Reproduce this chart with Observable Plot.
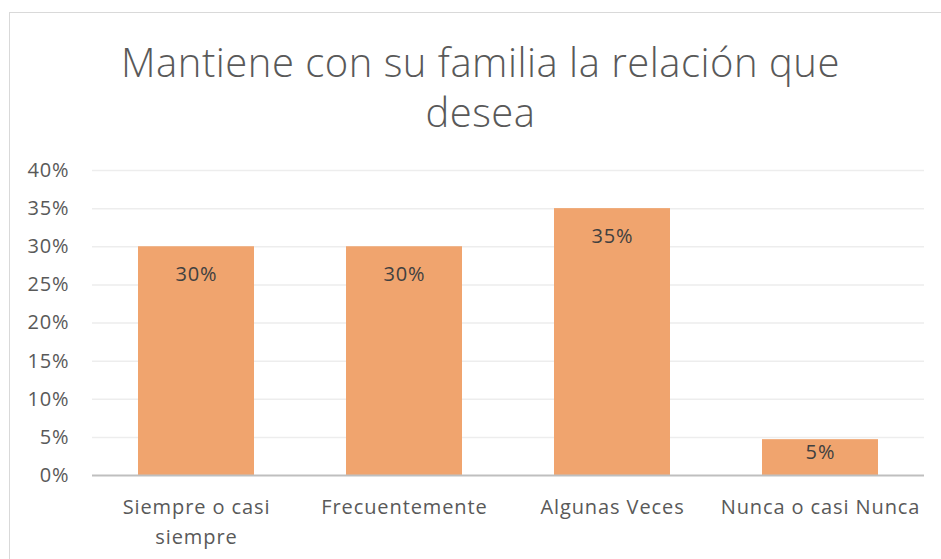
<!DOCTYPE html>
<html>
<head>
<meta charset="utf-8">
<script src="https://cdn.jsdelivr.net/npm/d3@7"></script>
<script src="https://cdn.jsdelivr.net/npm/@observablehq/plot@0.6"></script>
<style>
  html, body { margin: 0; padding: 0; background: #fff; }
  #frame { position: relative; width: 941px; height: 559px; overflow: hidden; font-family: "Open Sans", sans-serif; }
  #border { position: absolute; left: 9px; top: 12px; width: 940px; height: 560px; border-left: 1.5px solid #d9d9d9; border-top: 1.5px solid #d9d9d9; }
  #title { position: absolute; left: 10px; top: 37px; width: 941px; text-align: center; font-size: 40px; line-height: 50px; font-weight: 300; letter-spacing: 0.5px; color: #595959; }
  #chart { position: absolute; left: 0; top: 150px; }
</style>
</head>
<body>
<div id="frame">
  <div id="border"></div>
  <div id="title">Mantiene con su familia la relación que<br>desea</div>
  <div id="chart"></div>
</div>
<script>
const categories = ["Siempre o casi siempre", "Frecuentemente", "Algunas Veces", "Nunca o casi Nunca"];
const categoryLabels = ["Siempre o casi\nsiempre", "Frecuentemente", "Algunas Veces", "Nunca o casi Nunca"];
const values = [0.30, 0.30, 0.35, 0.047];
const yTicks = [0, 0.05, 0.10, 0.15, 0.20, 0.25, 0.30, 0.35, 0.40];

const data = categories.map((c, i) => ({category: c, label: categoryLabels[i], value: values[i]}));
const pct = d3.format(".0%");

const chart = Plot.plot({
  width: 941,
  height: 409,
  marginTop: 20,
  marginBottom: 84,
  marginLeft: 92,
  marginRight: 17,
  style: {fontFamily: "Open Sans, sans-serif", fontSize: "20px", letterSpacing: "0.9px", color: "#595959", background: "transparent"},
  x: {domain: categories, paddingInner: 0.44, paddingOuter: 0.22, axis: null},
  y: {domain: [0, 0.40], axis: null},
  marks: [
    Plot.ruleY(yTicks.filter(d => d > 0), {stroke: "#ededed", strokeWidth: 1.5}),
    Plot.axisY({ticks: yTicks, tickFormat: pct, tickSize: 0, tickPadding: 23, fontSize: 20, fill: "#595959", label: null}),
    Plot.barY(data, {x: "category", y: "value", fill: "#F0A46E"}),
    Plot.ruleY([0], {stroke: "#bfbfbf", strokeWidth: 2}),
    Plot.text(data.filter(d => d.value >= 0.1), {x: "category", y: "value", text: d => pct(d.value), dy: 28, fontSize: 20, fill: "#404040"}),
    Plot.text(data.filter(d => d.value < 0.1), {x: "category", y: "value", text: d => pct(d.value), dy: 13, fontSize: 20, fill: "#404040"}),
    Plot.text(data, {x: "category", y: 0, text: "label", lineAnchor: "top", dy: 17, lineHeight: 1.5, fontSize: 20, fill: "#595959"})
  ]
});
document.getElementById("chart").appendChild(chart);
</script>
</body>
</html>
